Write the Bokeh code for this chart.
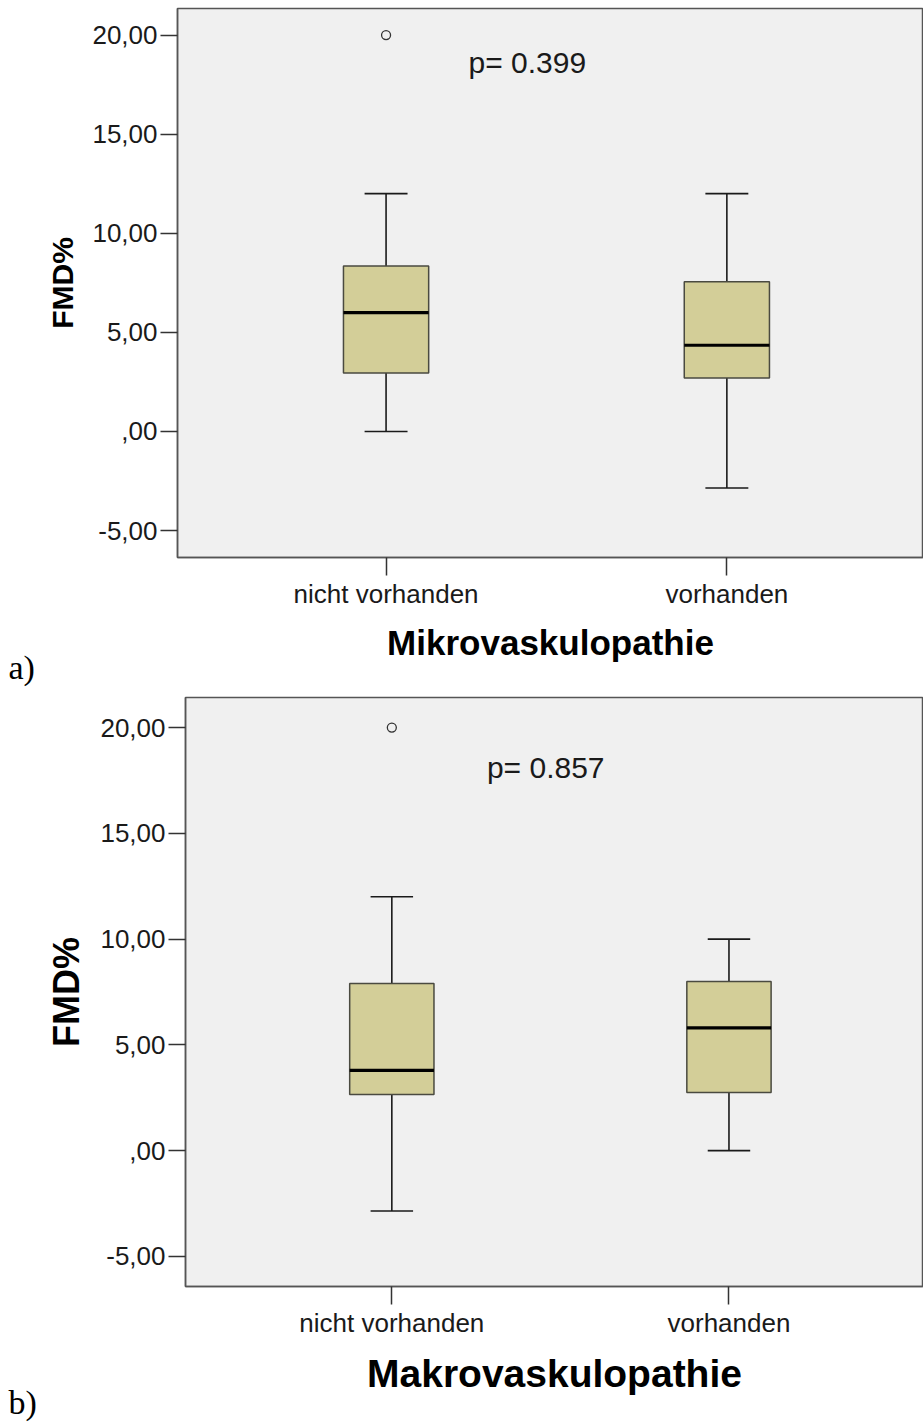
from bokeh.plotting import figure
from bokeh.models import Range1d, FixedTicker, Title
from bokeh.layouts import column
from bokeh.embed import file_html
from bokeh.resources import INLINE
from bokeh.core.properties import value

# ---------------- data ----------------
categories = ["nicht vorhanden", "vorhanden"]
y_ticks = [-5, 0, 5, 10, 15, 20]
y_tick_labels = ["-5,00", ",00", "5,00", "10,00", "15,00", "20,00"]
y_axis_title = "FMD%"

# a) Mikrovaskulopathie
mikro_title = "Mikrovaskulopathie"
mikro_low = [0.0, -2.85]
mikro_q1 = [2.95, 2.7]
mikro_median = [6.0, 4.35]
mikro_q3 = [8.35, 7.55]
mikro_high = [12.0, 12.0]
mikro_outlier_cat = ["nicht vorhanden"]
mikro_outlier_val = [20.0]
mikro_p = "p= 0.399"

# b) Makrovaskulopathie
makro_title = "Makrovaskulopathie"
makro_low = [-2.85, 0.0]
makro_q1 = [2.65, 2.75]
makro_median = [3.8, 5.8]
makro_q3 = [7.9, 8.0]
makro_high = [12.0, 10.0]
makro_outlier_cat = ["nicht vorhanden"]
makro_outlier_val = [20.0]
makro_p = "p= 0.857"

BOX_FILL = "#D3CE98"
FRAME_BG = "#F0F0F0"
INK = "#1a1a1a"
SANS = "Liberation Sans"


def make_panel(low, q1, med, q3, high, out_cat, out_val, ptext, p_xy, xtitle,
               panel_label, height, border_left, border_top, border_bottom,
               y_lo, y_hi, title_size, ylabel_size, lab_size, lab_standoff):
    p = figure(width=923, height=height, output_backend="svg", toolbar_location=None,
               x_range=Range1d(-0.612, 1.577), y_range=Range1d(y_lo, y_hi),
               min_border_left=border_left, min_border_right=0,
               min_border_top=border_top, min_border_bottom=border_bottom)
    p.frame_align = False
    p.background_fill_color = FRAME_BG
    p.border_fill_color = "white"
    p.outline_line_color = "#555555"
    p.outline_line_width = 1.5
    p.grid.visible = False

    xs = list(range(len(categories)))
    bw = 0.25
    cw = 0.063

    # whiskers
    p.segment(x0=xs, y0=q3, x1=xs, y1=high, line_color=INK, line_width=1.6)
    p.segment(x0=xs, y0=q1, x1=xs, y1=low, line_color=INK, line_width=1.6)
    p.segment(x0=[x - cw for x in xs], y0=high, x1=[x + cw for x in xs], y1=high,
              line_color=INK, line_width=1.6)
    p.segment(x0=[x - cw for x in xs], y0=low, x1=[x + cw for x in xs], y1=low,
              line_color=INK, line_width=1.6)
    # boxes
    p.vbar(x=xs, bottom=q1, top=q3, width=bw, fill_color=BOX_FILL,
           line_color="#4a4a40", line_width=1.5)
    # medians
    p.segment(x0=[x - bw / 2 for x in xs], y0=med, x1=[x + bw / 2 for x in xs], y1=med,
              line_color="black", line_width=3.2)
    # outliers
    ox = [categories.index(c) for c in out_cat]
    p.scatter(x=ox, y=out_val, size=9, marker="circle", fill_color=FRAME_BG,
              line_color="#333333", line_width=1.3)

    # p-value
    p.text(x=[p_xy[0]], y=[p_xy[1]], text=[ptext], text_font=value(SANS),
           text_font_size="30px", text_color=INK, text_baseline="alphabetic",
           text_align="left")

    # axes
    ya = p.yaxis[0]
    ya.ticker = FixedTicker(ticks=y_ticks)
    ya.major_label_overrides = {t: l for t, l in zip(y_ticks, y_tick_labels)}
    ya.minor_tick_line_color = None
    ya.major_tick_out = 17
    ya.major_tick_in = 0
    ya.major_tick_line_color = "#333333"
    ya.major_tick_line_width = 1.5
    ya.axis_line_color = "#555555"
    ya.axis_line_width = 1.5
    ya.major_label_text_font = SANS
    ya.major_label_text_font_size = "26px"
    ya.major_label_text_color = INK
    ya.major_label_standoff = 3
    ya.axis_label = y_axis_title
    ya.axis_label_text_font = SANS
    ya.axis_label_text_font_style = "bold"
    ya.axis_label_text_font_size = ylabel_size
    ya.axis_label_text_color = "black"
    ya.axis_label_standoff = 10

    xa = p.xaxis[0]
    xa.ticker = FixedTicker(ticks=xs)
    xa.major_label_overrides = {x: c for x, c in zip(xs, categories)}
    xa.minor_tick_line_color = None
    xa.major_tick_out = 18
    xa.major_tick_in = 0
    xa.major_tick_line_color = "#333333"
    xa.major_tick_line_width = 1.5
    xa.axis_line_color = "#555555"
    xa.axis_line_width = 1.5
    xa.major_label_text_font = SANS
    xa.major_label_text_font_size = "26px"
    xa.major_label_text_color = INK
    xa.major_label_standoff = 3
    xa.axis_label = xtitle
    xa.axis_label_text_font = SANS
    xa.axis_label_text_font_style = "bold"
    xa.axis_label_text_font_size = title_size
    xa.axis_label_text_color = "black"
    xa.axis_label_standoff = 11

    # panel letter below the axis, shifted to the canvas' left edge
    p.add_layout(Title(text=panel_label, align="left", offset=8 - border_left,
                       vertical_align="top", standoff=lab_standoff,
                       text_font="Liberation Serif", text_font_style="normal",
                       text_font_size=lab_size, text_color="black"), "below")
    return p


p1 = make_panel(mikro_low, mikro_q1, mikro_median, mikro_q3, mikro_high,
                mikro_outlier_cat, mikro_outlier_val, mikro_p, (0.242, 18.6),
                mikro_title, "a)", 692, 177, 8, 135, -6.36, 21.34,
                "35px", "30px", "34px", -32)
p2 = make_panel(makro_low, makro_q1, makro_median, makro_q3, makro_high,
                makro_outlier_cat, makro_outlier_val, makro_p, (0.282, 18.11),
                makro_title, "b)", 731, 185, 5, 137, -6.42, 21.42,
                "39px", "36px", "34px", -28)

layout = column(p1, p2, spacing=0)
open("out.html", "w").write(file_html(layout, INLINE))
